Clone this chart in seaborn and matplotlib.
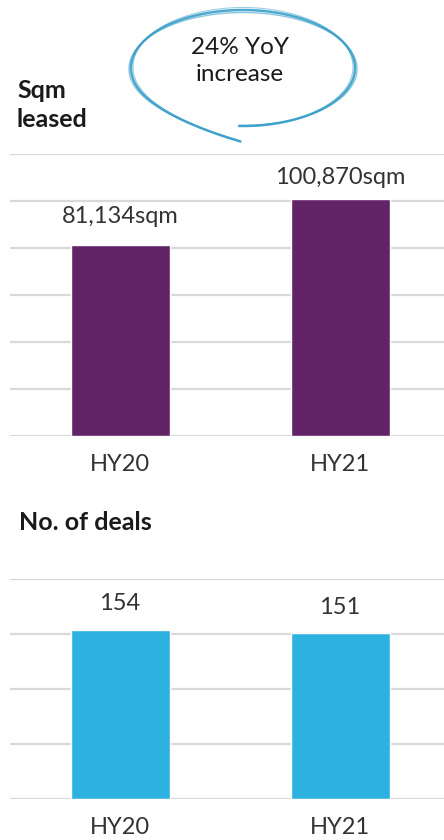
import numpy as np
import pandas as pd
import matplotlib
matplotlib.use("Agg")
import matplotlib.pyplot as plt
import seaborn as sns

# dados
periodos = ["HY20", "HY21"]
sqm_leased = [81134, 100870]
sqm_labels = ["81,134sqm", "100,870sqm"]
num_deals = [154, 151]
deal_labels = ["154", "151"]

sns.set_style("white")
plt.rcParams["font.family"] = ["Lato", "DejaVu Sans"]

roxo = "#622466"
azul = "#2db1e0"
cinza_grid = "#d9d9d9"
cor_texto = "#333333"

W, H = 444, 840
fig = plt.figure(figsize=(W / 100, H / 100), dpi=100)


def eixo(top_px, bottom_px):
    left = 10 / W
    width = 440 / W
    return fig.add_axes([left, 1 - bottom_px / H, width, (bottom_px - top_px) / H])


def estilo(ax, ymax, step):
    ax.set_ylim(0, ymax)
    ax.set_yticks(np.arange(0, ymax + 1, step))
    ax.yaxis.grid(True, color=cinza_grid, linewidth=1.6)
    ax.set_axisbelow(True)
    ax.set_yticklabels([])
    ax.tick_params(axis="y", length=0)
    ax.tick_params(axis="x", length=0, pad=13, labelsize=17, labelcolor=cor_texto)
    ax.set_xlabel("")
    ax.set_ylabel("")
    for s in ax.spines.values():
        s.set_visible(False)
    ax.set_xlim(-0.5, 1.5)


# ---- grafico 1: sqm leased ----
ax1 = eixo(154, 436)
df1 = pd.DataFrame({"periodo": periodos, "sqm": sqm_leased})
sns.barplot(data=df1, x="periodo", y="sqm", color=roxo, saturation=1, width=0.45, ax=ax1)
estilo(ax1, 120000, 20000)
for p, txt, pad in zip(ax1.patches, sqm_labels, [13, 8]):
    ax1.annotate(txt, (p.get_x() + p.get_width() / 2, p.get_height()),
                 xytext=(0, pad), textcoords="offset points",
                 ha="center", va="bottom", fontsize=17, color=cor_texto)

# ---- grafico 2: numero de deals ----
ax2 = eixo(579, 799)
df2 = pd.DataFrame({"periodo": periodos, "deals": num_deals})
sns.barplot(data=df2, x="periodo", y="deals", color=azul, saturation=1, width=0.45, ax=ax2)
estilo(ax2, 200, 50)
for p, txt in zip(ax2.patches, deal_labels):
    ax2.annotate(txt, (p.get_x() + p.get_width() / 2, p.get_height()),
                 xytext=(0, 11), textcoords="offset points",
                 ha="center", va="bottom", fontsize=17, color=cor_texto)

# titulos
fig.text(17 / W, 1 - 105 / H, "Sqm\nleased", fontsize=18, fontweight="bold",
         color="#1a1a1a", va="center", ha="left", linespacing=1.3)
fig.text(19 / W, 1 - 522 / H, "No. of deals", fontsize=18, fontweight="bold",
         color="#1a1a1a", va="center", ha="left")

# balão desenhado à mão
ov = fig.add_axes([0, 0, 1, 1], facecolor="none")
ov.set_xlim(0, W)
ov.set_ylim(H, 0)
ov.axis("off")
cx, cy, a, b = 243, 68, 112, 58
for da, db, dy, lw, al in [(0, 0, 0, 1.8, 0.9), (2, -1.5, 1, 1.0, 0.6), (-2, 1.5, -1, 0.8, 0.5)]:
    t = np.radians(np.linspace(92, -262, 320))
    # no fim o traço desce em espiral até a ponta do balão
    cresce = np.clip((-205 - np.degrees(t)) / 57, 0, 1) ** 2
    xs = cx + (a + da) * np.cos(t) + 13 * cresce
    ys = cy + dy + (b + db) * np.sin(t) + 16 * cresce
    ov.plot(xs, ys, color="#3a9fc8", lw=lw, alpha=al, solid_capstyle="round")
ov.text(240, 61, "24% YoY\nincrease", fontsize=17.5, color="#1a1a1a",
        ha="center", va="center", linespacing=1.3)

fig.savefig("out.png", dpi=100)
